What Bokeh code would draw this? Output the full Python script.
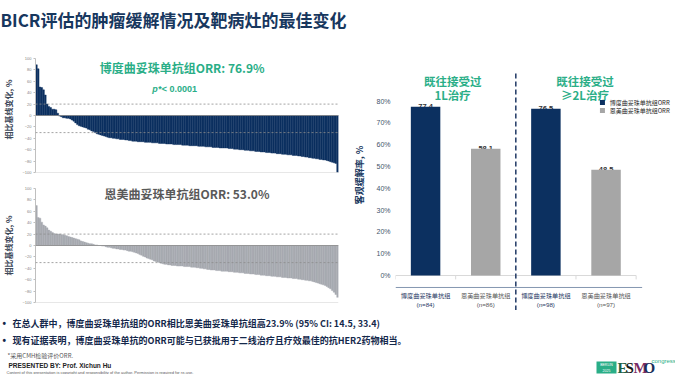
from bokeh.plotting import figure
from bokeh.layouts import column, row
from bokeh.models import Range1d, Span, FixedTicker, PrintfTickFormatter
from bokeh.core.properties import value
from bokeh.embed import file_html
from bokeh.resources import INLINE

CJK = "Noto Sans CJK SC"
LAT = "Liberation Sans"
NAVY = "#0c3060"
TITLE_C = "#17375e"
TEAL = "#2aae87"
GRAY_W = "#a7aab0"
GRAY_B = "#a6a6a6"

# ---------------- data ----------------
title_text = "BICR评估的肿瘤缓解情况及靶病灶的最佳变化"

wf_ticks = [-100, -80, -60, -40, -20, 0, 20, 40, 60, 80, 100]
wf_ylabel = "相比基线变化, %"
pr_threshold = 20
cr_threshold = -30

blue_title = "博度曲妥珠单抗组ORR: 76.9%"
blue_change = [89, 82, 50, 49, 45, 36, 20, 16, 14, 11, 11, 10, 4, -1, -2,
               -4, -4, -5, -5, -6, -8, -10, -13, -16,
               -18, -19, -20, -21, -22, -24, -25, -27, -28,
               -30, -32, -33, -34, -35, -36, -37, -38,
               -39, -39, -40, -40, -41, -41, -42, -42, -42, -43, -43, -44, -44,
               -45, -45, -45, -46, -46, -46, -46, -47, -47, -47, -47, -48, -48, -48, -48, -49, -49, -49, -49,
               -50, -50, -50, -50, -51, -51, -51, -51, -51, -52, -52, -52, -52, -53, -53, -53, -53, -53,
               -54, -54, -54, -54, -55, -55, -55, -55, -56, -56, -56, -56, -57, -57, -57, -57, -57, -58, -58,
               -58, -59, -59, -59, -60, -60, -60, -61, -61, -61, -62, -62, -62, -63, -63, -63, -64, -64, -64,
               -65, -65, -65, -66, -66, -66, -67, -67, -67, -68, -68, -68, -69, -69, -69, -70, -70, -70, -71,
               -71, -72, -72, -73, -73, -74, -74, -75, -75, -76, -76, -77, -77, -78, -78, -79,
               -80, -81, -82, -83, -84, -100]

gray_title = "恩美曲妥珠单抗组ORR: 53.0%"
gray_change = [70, 49, 48, 41, 36, 34, 31, 27, 25, 23,
               21, 20, 20, 20, 19, 19, 18, 17, 16, 15,
               14, 13, 12, 11, 10, 8, 7, 6, 5, 4,
               3, 3, 2, 1, 1, 0, 0, -1, -1, -2,
               -3, -3, -4, -5, -5, -6, -6, -7, -7, -8,
               -8, -9, -10, -10, -11, -12, -13, -14, -16, -17,
               -19, -20, -22, -23, -24, -25, -27, -28, -29, -30,
               -31, -32, -33, -33, -34, -34, -35, -35, -35, -36,
               -36, -36, -36, -37, -37, -37, -37, -38, -38, -38,
               -39, -39, -40, -40, -41, -41, -42, -42, -43, -43,
               -43, -44, -44, -44, -45, -45, -45, -45, -46, -46,
               -46, -47, -47, -47, -48, -48, -48, -49, -49, -49,
               -50, -50, -50, -51, -51, -51, -52, -52, -52, -53,
               -53, -53, -54, -54, -54, -55, -55, -55, -56, -56,
               -56, -57, -57, -57, -58, -58, -58, -59, -59, -60,
               -60, -61, -61, -62, -62, -63, -64, -65, -66, -67,
               -68, -69, -70, -72, -74, -76, -79, -82, -86, -91]

pvalue_p = "p"
pvalue_rest = "*< 0.0001"

bar_cat_names = ["博度曲妥珠单抗组", "恩美曲妥珠单抗组", "博度曲妥珠单抗组", "恩美曲妥珠单抗组"]
bar_cat_n = ["(n=84)", "(n=86)", "(n=98)", "(n=97)"]
bar_orr = [77.4, 58.1, 76.5, 48.5]
bar_labels = ["77.4", "58.1", "76.5", "48.5"]
bar_ticks = [0, 10, 20, 30, 40, 50, 60, 70, 80]
bar_ylabel = "客观缓解率, %"
legend_names = ["博度曲妥珠单抗组ORR", "恩美曲妥珠单抗组ORR"]
group_headers = [("既往接受过", "1L治疗"), ("既往接受过", "≥2L治疗")]

bullet1 = "在总人群中，博度曲妥珠单抗组的ORR相比恩美曲妥珠单抗组高23.9% (95% CI: 14.5, 33.4)"
bullet2 = "现有证据表明，博度曲妥珠单抗的ORR可能与已获批用于二线治疗且疗效最佳的抗HER2药物相当。"
footnote = "*采用CMH检验评价ORR."
presenter = "PRESENTED BY: Prof. Xichun Hu"
copyright_txt = "Content of this presentation is copyright and responsibility of the author. Permission is required for re-use."


def blank(width, height, xr, yr):
    p = figure(width=width, height=height, x_range=Range1d(*xr), y_range=Range1d(*yr),
               x_axis_location=None, y_axis_location=None, output_backend="svg",
               toolbar_location=None, min_border=0)
    p.grid.visible = False
    p.outline_line_color = None
    return p


# ---------------- title ----------------
tfig = blank(675, 48, (8, 683), (48, 0))
tfig.text(x=[8], y=[19], text=[title_text], text_font=value(CJK), text_font_size="17px",
          text_font_style="bold", text_color=TITLE_C, text_baseline="middle")


# ---------------- waterfalls ----------------
def waterfall(vals, color, height, btop, bbot, ylabel):
    n = len(vals)
    p = figure(width=350, height=height, x_range=Range1d(-0.5, n - 0.5), y_range=Range1d(-100, 100),
               x_axis_location=None, output_backend="svg", toolbar_location=None,
               min_border_left=28, min_border_right=12, min_border_top=btop, min_border_bottom=bbot)
    p.grid.visible = False
    p.outline_line_color = None
    p.vbar(x=list(range(n)), top=vals, bottom=0, width=1.0, fill_color=color,
           line_color=color, line_width=0.4)
    p.add_layout(Span(location=0, dimension="width", line_color="#8a8a8a", line_width=0.8))
    p.add_layout(Span(location=pr_threshold, dimension="width", line_color="#8c8c8c",
                      line_width=0.8, line_dash="2 2"))
    p.add_layout(Span(location=cr_threshold, dimension="width", line_color="#8c8c8c",
                      line_width=0.8, line_dash="2 2"))
    p.add_layout(Span(location=-100, dimension="width", line_color="#d0d0d0", line_width=1))
    ax = p.yaxis[0]
    ax.ticker = FixedTicker(ticks=wf_ticks)
    ax.major_label_text_font_size = "4px"
    ax.major_label_text_color = "#7f7f7f"
    ax.major_label_text_font = LAT
    ax.axis_line_color = "#bfbfbf"
    ax.major_tick_line_color = "#bfbfbf"
    ax.major_tick_out = 2
    ax.major_tick_in = 0
    ax.minor_tick_line_color = None
    ax.major_label_standoff = 2
    ax.axis_label = ylabel
    ax.axis_label_text_font = CJK
    ax.axis_label_text_font_size = "8px"
    ax.axis_label_text_font_style = "bold"
    ax.axis_label_text_color = "#3f4a5a"
    ax.axis_label_standoff = 5
    return p


def xpos(p_n, ref_x):
    return (ref_x - 36) / 310 * p_n - 0.5


wf1 = waterfall(blue_change, NAVY, 130, 10, 6, "\u3000\u2002" + wf_ylabel)
n1 = len(blue_change)
wf1.text(x=[xpos(n1, 186)], y=[84], text=[blue_title], text_font=value(CJK), text_font_size="12px",
         text_font_style="bold", text_color=TEAL, text_align="center", text_baseline="middle")
wf1.text(x=[xpos(n1, 161)], y=[47], text=[pvalue_p], text_font=value(LAT), text_font_size="9px",
         text_font_style="bold italic", text_color=TEAL, text_align="right", text_baseline="middle")
wf1.text(x=[xpos(n1, 161.5)], y=[47], text=[pvalue_rest], text_font=value(LAT), text_font_size="9px",
         text_font_style="bold", text_color=TEAL, text_align="left", text_baseline="middle")

wf2 = waterfall(gray_change, GRAY_W, 132, 10, 8, wf_ylabel)
n2 = len(gray_change)
wf2.text(x=[xpos(n2, 191)], y=[91], text=[gray_title], text_font=value(CJK), text_font_size="12px",
         text_font_style="bold", text_color="#595959", text_align="center", text_baseline="middle")

# ---------------- bar chart ----------------
ncat = len(bar_orr)
bar_x = [i + 0.5 for i in range(ncat)]
Y_LOW = -16.06
bp = figure(width=325, height=262, x_range=Range1d(0, 4.588), y_range=Range1d(Y_LOW, 100),
            x_axis_location=None, output_backend="svg", toolbar_location=None,
            min_border_left=40, min_border_right=4, min_border_top=9, min_border_bottom=0)
bp.grid.visible = False
bp.outline_line_color = None

# 0% baseline with category boundary ticks, and category axis line
bp.segment(x0=[0], y0=[0], x1=[ncat], y1=[0], line_color="#d9d9d9", line_width=1)
bp.segment(x0=list(range(ncat + 1)), y0=[0] * (ncat + 1), x1=list(range(ncat + 1)),
           y1=[-1.8] * (ncat + 1), line_color="#d9d9d9", line_width=1)
bp.segment(x0=[0], y0=[-5.5], x1=[ncat + 0.1], y1=[-5.5], line_color="#8497b0", line_width=1)

bp.text(x=bar_x, y=bar_orr, text=bar_labels, text_font=value(LAT), text_font_size="7.5px",
        text_font_style="bold", text_color="#333333", text_align="center", text_baseline="middle")
bp.vbar(x=bar_x[0::2], top=bar_orr[0::2], width=0.49, fill_color=NAVY, line_color=None)
bp.vbar(x=bar_x[1::2], top=bar_orr[1::2], width=0.49, fill_color=GRAY_B, line_color=None)

cat_colors = ["#1f3864", "#595959", "#1f3864", "#595959"]
bp.text(x=bar_x, y=[-9.2] * ncat, text=bar_cat_names, text_font=value(CJK), text_font_size="6.2px",
        text_color=cat_colors, text_align="center", text_baseline="middle")
bp.text(x=bar_x, y=[-13.3] * ncat, text=bar_cat_n, text_font=value(LAT), text_font_size="6.2px",
        text_color=cat_colors, text_align="center", text_baseline="middle")

bp.segment(x0=[2], y0=[Y_LOW], x1=[2], y1=[93.1], line_color="#1f3864", line_width=1.5, line_dash="5 3")

for gx, (h1, h2) in zip([0.95, 3.15], group_headers):
    bp.text(x=[gx, gx], y=[89.0, 82.6], text=[h1, h2], text_font=value(CJK), text_font_size="11.5px",
            text_font_style="bold", text_color=TEAL, text_align="center", text_baseline="middle")

# legend (swatches + names)
bp.scatter(x=[3.44, 3.44], y=[79.4, 75.7], marker="square", size=5,
           fill_color=[NAVY, GRAY_B], line_color=None)
bp.text(x=[3.56, 3.56], y=[79.4, 75.7], text=legend_names, text_font=value(CJK), text_font_size="6px",
        text_color="#262626", text_baseline="middle")

ya = bp.yaxis[0]
ya.ticker = FixedTicker(ticks=bar_ticks)
ya.formatter = PrintfTickFormatter(format="%d%%")
ya.major_label_text_font_size = "7px"
ya.major_label_text_font = LAT
ya.major_label_text_color = "#44546a"
ya.axis_line_color = None
ya.major_tick_line_color = None
ya.major_tick_out = 0
ya.major_tick_in = 0
ya.minor_tick_line_color = None
ya.minor_tick_out = 0
ya.major_label_standoff = 5
ya.axis_label = "\u3000\u3000" + bar_ylabel
ya.axis_label_text_font = CJK
ya.axis_label_text_font_size = "9px"
ya.axis_label_text_font_style = "bold"
ya.axis_label_text_color = TITLE_C
ya.axis_label_standoff = 7

# ---------------- footer text ----------------
ffig = blank(675, 64, (8, 683), (374, 310))
ffig.text(x=[10, 10], y=[323, 340], text=["•", "•"], text_font=value(LAT), text_font_size="10px",
          text_font_style="bold", text_color="#14284b", text_baseline="middle")
ffig.text(x=[20, 20], y=[323, 340], text=[bullet1, bullet2], text_font=value(CJK), text_font_size="9px",
          text_font_style="bold", text_color="#14284b", text_baseline="middle")
ffig.text(x=[15], y=[355], text=[footnote], text_font=value(CJK), text_font_size="6px",
          text_color="#595959", text_baseline="middle")
ffig.text(x=[16], y=[364.5], text=[presenter], text_font=value(LAT), text_font_size="6.5px",
          text_font_style="bold", text_color="#222222", text_baseline="middle")
ffig.text(x=[14], y=[371.5], text=[copyright_txt], text_font=value(LAT), text_font_size="4px",
          text_color="#595959", text_baseline="middle")

# ESMO logo
ffig.quad(left=[604], right=[624], top=[361], bottom=[373], fill_color="#2aae87", line_color=None)
ffig.text(x=[614, 614], y=[364.5, 369.5], text=["BERLIN", "2025"], text_font=value(LAT),
          text_font_size="3.5px", text_color="white", text_align="center", text_baseline="middle")
ffig.text(x=[625, 633, 641, 651], y=[367] * 4, text=["E", "S", "M", "O"],
          text_font=value("Liberation Sans Narrow"), text_font_size="15px", text_font_style="bold",
          text_color=["#1e5f46", "#1b1b1b", "#7a2a63", "#1a2f5a"], text_baseline="middle")
ffig.text(x=[659], y=[360], text=["congress"], text_font=value(LAT), text_font_size="6px",
          text_color="#2aae87", text_baseline="middle")

layout = column(tfig, row(column(wf1, wf2), bp), ffig)
open("out.html", "w").write(file_html(layout, INLINE))
